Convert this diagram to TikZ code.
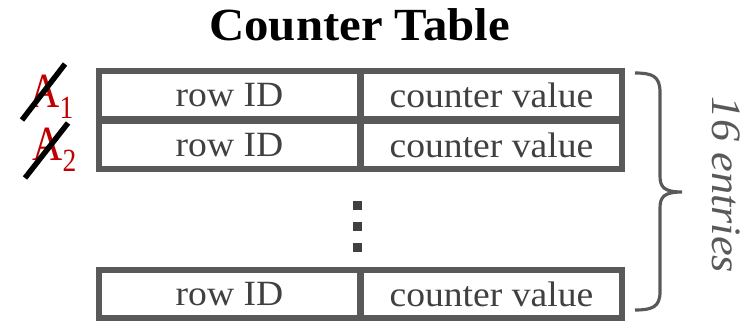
\documentclass[tikz,border=0pt]{standalone}
\usepackage{fontspec}
\setmainfont[FakeStretch=1.06]{Liberation Serif}
\newfontfamily\addrfont[FakeStretch=0.85]{Liberation Serif}
\usepackage{xcolor}
\usepackage{tikz}
\usetikzlibrary{positioning}

\definecolor{framegray}{HTML}{595959}
\definecolor{textgray}{HTML}{404040}
\definecolor{addrred}{HTML}{C00000}

\begin{document}
\begin{tikzpicture}[x=0.02cm, y=-0.02cm, cell/.style={rectangle, draw=framegray, line width=3.6pt, outer sep=0pt, inner sep=0pt, minimum width=5.22cm, minimum height=0.96cm, text=textgray, font=\fontsize{20.2}{23}\selectfont}, addr/.style={inner sep=0pt, anchor=base west, text=addrred, font=\addrfont\fontsize{28}{30}\selectfont}, strike/.style={line width=3.1pt}]
\useasboundingbox (0,0) rectangle (751,321);
\node[anchor=base, font=\bfseries\fontsize{26.2}{30}\selectfont] (title) at (359.5,40) {Counter Table};
% table entries
\node[cell] (id1) at (229.5,95) {row ID};
\node[cell, right=0.02cm of id1] (val1) {counter value};
\node[cell, below=0.04cm of id1] (id2) {row ID};
\node[cell, right=0.02cm of id2] (val2) {counter value};
\node[cell, below=2.02cm of id2] (id3) {row ID};
\node[cell, right=0.02cm of id3] (val3) {counter value};
\foreach \y in {205,226,247}
  \fill[textgray] (352.5,\y-4.5) rectangle ++(9,9);
% evicted addresses
\node[addr] (a1) at (29,107) {A\raisebox{-6.3pt}{\fontsize{18.4}{20}\selectfont 1}};
\node[addr] (a2) at (32,160) {A\raisebox{-6.3pt}{\fontsize{18.4}{20}\selectfont 2}};
\draw[strike] (22,120) -- (65,64);
\draw[strike] (25,178) -- (68,123);
% brace
\draw[framegray, line width=1.8pt] (635,73) .. controls (652,73) and (660,76) .. (660,92) -- (660,176) .. controls (660,187) and (664,192) .. (682,192) .. controls (664,192) and (660,197) .. (660,208) -- (660,292) .. controls (660,307) and (652,310) .. (635,310);
\node[rotate=-90, text=framegray, font=\itshape\fontsize{23.8}{26}\selectfont] (count) at (726,185) {16 entries};
\end{tikzpicture}
\end{document}
